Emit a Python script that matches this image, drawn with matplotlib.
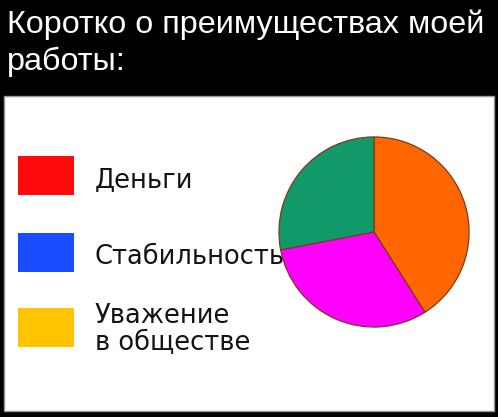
import matplotlib.pyplot as plt
from matplotlib.patches import Rectangle

# Данные
title = 'Коротко о преимуществах моей\nработы:'
legend_labels = ['Деньги', 'Стабильность', 'Уважение\nв обществе']
legend_colors = ['#ff0a0a', '#1a4cff', '#ffc400']
pie_values = [41, 31, 28]
pie_colors = ['#ff6600', '#ff00ff', '#12996a']

W, H = 498, 417
fig = plt.figure(figsize=(W / 100, H / 100), dpi=100, facecolor='black')

# белая панель, координаты в пикселях (y вниз)
panel = fig.add_axes([0, 0, 1, 1])
panel.set_xlim(0, W)
panel.set_ylim(H, 0)
panel.axis('off')
panel.add_patch(Rectangle((4, 96), 490, 315, facecolor='white', edgecolor='#999999', lw=1))

fig.text(7 / W, 1 - 10 / H, title, color='white', fontsize=23.3,
         family='Liberation Sans', va='top', ha='left', linespacing=1.25)

# легенда (цвета специально не совпадают с диаграммой)
centers = [175, 252.5, 327.5]
offsets = [5, 5, 2]
for lab, col, cy, dy in zip(legend_labels, legend_colors, centers, offsets):
    panel.add_patch(Rectangle((18, cy - 19.5), 56, 39, facecolor=col, edgecolor='none'))
    panel.text(95, cy + dy, lab, fontsize=18.5, family='DejaVu Sans', color='#141414',
               va='center', ha='left', linespacing=1.05)

# круговая диаграмма
cx, cy, r = 374, 232, 96
pax = fig.add_axes([(cx - r) / W, (H - cy - r) / H, 2 * r / W, 2 * r / H])
pax.pie(pie_values, colors=pie_colors, startangle=90, counterclock=False,
        wedgeprops=dict(edgecolor='#7a3a1a', linewidth=0.9))
pax.set_xlim(-1.01, 1.01)
pax.set_ylim(-1.01, 1.01)
pax.set_aspect('equal')

fig.savefig('out.png', dpi=100, facecolor='black')
